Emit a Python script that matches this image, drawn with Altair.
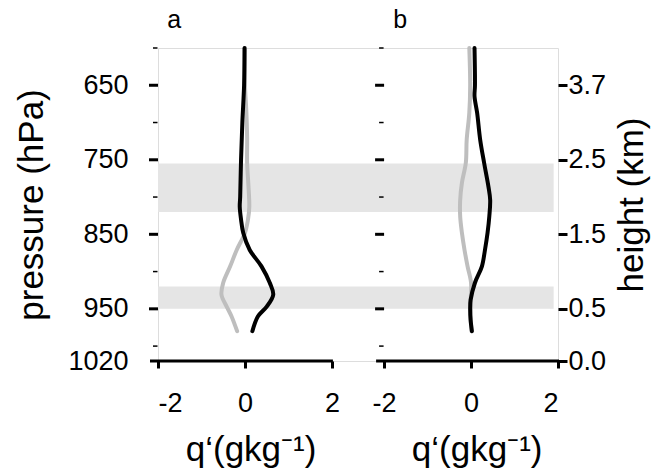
import altair as alt
import pandas as pd

# ---------------- data ----------------
# panel a
a_black_p = [600, 650, 700, 750, 800, 813, 830, 848, 871, 893, 915, 931, 947, 960, 980]
a_black_q = [-0.01, -0.02, -0.06, -0.09, -0.11, -0.12, -0.09, -0.04, 0.11, 0.38, 0.57, 0.65, 0.50, 0.30, 0.17]
a_grey_p = [600, 650, 683, 720, 754, 785, 813, 830, 848, 871, 893, 915, 931, 947, 960, 980]
a_grey_q = [0.0, 0.0, 0.03, 0.05, 0.05, 0.08, 0.10, 0.07, 0.0, -0.19, -0.34, -0.50, -0.54, -0.42, -0.31, -0.18]
# panel b
b_black_p = [600, 650, 665, 687, 723, 754, 786, 804, 826, 848, 871, 893, 915, 938, 950, 965, 980]
b_black_q = [0.08, 0.09, 0.08, 0.14, 0.21, 0.30, 0.40, 0.44, 0.42, 0.38, 0.32, 0.25, 0.09, -0.01, -0.02, -0.01, 0.02]
b_grey_p = [600, 650, 687, 723, 754, 781, 804, 826, 848, 871, 893, 915, 940, 960, 980]
b_grey_q = [-0.04, -0.02, -0.04, -0.10, -0.12, -0.21, -0.25, -0.25, -0.21, -0.15, -0.08, 0.0, -0.01, -0.01, 0.01]

band_top = [755, 920]
band_bottom = [820, 950]

pressure_labels = [650, 750, 850, 950, 1020]
height_labels = ["3.7", "2.5", "1.5", "0.5", "0.0"]
major_ticks = [650, 750, 850, 950]
minor_ticks = [600, 700, 800, 900, 1000]
q_ticks = [-2, 0, 2]
panel_names = ["a", "b"]

# ---------------- layout constants ----------------
OFFSET = {"a": 0.0, "b": 5.2}          # horizontal shift of each panel on the shared x scale
PX = 400 / 9.2                          # pixels per unit of q
BLACK = "#000000"
GREY = "#BEBEBE"
BAND = "#E5E5E5"
FONT = "Liberation Sans"

X = alt.Scale(domain=[-2, 7.2], nice=False, zero=False)
Y = alt.Scale(domain=[600, 1020], reverse=True, nice=False, zero=False)

# ---------------- tables ----------------
def profile(panel, p, q):
    return pd.DataFrame({"panel": panel, "p": p, "x": [v + OFFSET[panel] for v in q]})

black_df = pd.concat([profile("a", a_black_p, a_black_q), profile("b", b_black_p, b_black_q)])
grey_df = pd.concat([profile("a", a_grey_p, a_grey_q), profile("b", b_grey_p, b_grey_q)])

band_df = pd.DataFrame({
    "top": band_top, "bottom": band_bottom,
    "x0": [OFFSET["a"] - 2] * len(band_top),
    "x1": [OFFSET["b"] + 1.9] * len(band_top),
})

def tick_table(levels, length, gap):
    rows = []
    for pan in panel_names:
        for p in levels:
            rows.append({"p": p, "x0": OFFSET[pan] - 2 - length / PX, "x1": OFFSET[pan] - 2 - gap / PX})
    return pd.DataFrame(rows)

major_df = tick_table(major_ticks, 9, 0)
minor_df = tick_table(minor_ticks, 5, 0.5)

axis_line_df = pd.DataFrame({
    "x0": [OFFSET[p] - 2 - 8 / PX for p in panel_names],
    "x1": [OFFSET[p] + 2 + 1 / PX for p in panel_names],
})

letters_df = pd.DataFrame({"label": panel_names, "x": [OFFSET[p] - 1.63 for p in panel_names]})
xtitle_df = pd.DataFrame({"label": ["q\u2018(gkg\u207b\u00b9)"] * 2, "x": [OFFSET[p] + 0.14 for p in panel_names]})

# ---------------- axes ----------------
x_values = [t + OFFSET[p] for p in panel_names for t in q_ticks]
x_axis = alt.Axis(
    orient="bottom", values=x_values, title=None, grid=False, domain=False,
    ticks=True, tickSize=7, tickWidth=3, tickColor=BLACK,
    labelFontSize=27, labelColor=BLACK, labelPadding=22, labelFont=FONT,
    labelExpr=f"datum.value > 2.5 ? '' + round(datum.value - {OFFSET['b']}) : '' + round(datum.value)",
)
left_axis = alt.Axis(
    orient="left", values=pressure_labels, grid=False, domain=False, ticks=False, format="d",
    labelFontSize=27, labelColor=BLACK, labelPadding=30, labelFont=FONT,
    title="pressure (hPa)", titleFontSize=35, titleFontWeight="normal", titleColor=BLACK,
    titleFont=FONT, titlePadding=18,
)
right_expr = " : ".join(f"datum.value == {p} ? '{h}'" for p, h in zip(pressure_labels, height_labels)) + " : ''"
right_axis = alt.Axis(
    orient="right", values=pressure_labels, grid=False, domain=False,
    ticks=True, tickSize=9, tickWidth=3, tickColor=BLACK,
    labelFontSize=27, labelColor=BLACK, labelPadding=1, labelFont=FONT, labelExpr=right_expr,
    title="height (km)", titleFontSize=35, titleFontWeight="normal", titleColor=BLACK,
    titleFont=FONT, titleAngle=270, titleBaseline="top", titlePadding=9,
)

def xenc(field):
    return alt.X(field, scale=X, axis=x_axis)

# ---------------- layers ----------------
bands = alt.Chart(band_df).mark_rect(color=BAND).encode(
    x=xenc("x0:Q"), x2="x1:Q",
    y=alt.Y("top:Q", scale=Y, axis=left_axis), y2="bottom:Q",
)

grey = alt.Chart(grey_df).mark_line(color=GREY, strokeWidth=4, strokeCap="round",
                                    interpolate="catmull-rom").encode(
    x=xenc("x:Q"),
    y=alt.Y("p:Q", scale=Y, axis=None),
    detail="panel:N", order="p:Q",
)

black = alt.Chart(black_df).mark_line(color=BLACK, strokeWidth=4, strokeCap="round",
                                      interpolate="catmull-rom").encode(
    x=xenc("x:Q"),
    y=alt.Y("p:Q", scale=Y, axis=right_axis),
    detail="panel:N", order="p:Q",
)

major = alt.Chart(major_df).mark_rule(color=BLACK, strokeWidth=3).encode(
    x=xenc("x0:Q"), x2="x1:Q",
    y=alt.Y("p:Q", scale=Y, axis=None),
)
minor = alt.Chart(minor_df).mark_rule(color=BLACK, strokeWidth=1.5).encode(
    x=xenc("x0:Q"), x2="x1:Q",
    y=alt.Y("p:Q", scale=Y, axis=None),
)

axis_lines = alt.Chart(axis_line_df).mark_rule(color=BLACK, strokeWidth=3).encode(
    x=xenc("x0:Q"), x2="x1:Q",
    y=alt.YDatum(1020, scale=Y, axis=None),
)

letters = alt.Chart(letters_df).mark_text(fontSize=25, font=FONT, color=BLACK, align="center",
                                          baseline="alphabetic", dy=-20).encode(
    x=xenc("x:Q"),
    y=alt.YDatum(600, scale=Y, axis=None),
    text="label:N",
)

xtitles = alt.Chart(xtitle_df).mark_text(fontSize=35, font=FONT, color=BLACK, align="center",
                                         baseline="alphabetic", dy=100).encode(
    x=xenc("x:Q"),
    y=alt.YDatum(1020, scale=Y, axis=None),
    text="label:N",
)

chart = alt.layer(
    bands, grey, black, major, minor, axis_lines, letters, xtitles
).resolve_scale(y="independent").properties(
    width=400, height=313,
    autosize=alt.AutoSizeParams(type="none"),
    padding={"left": 158, "top": 48, "right": 93, "bottom": 113},
).configure_view(stroke=None).configure(font=FONT, background="white")

chart.save("out.html", embed_options={"renderer": "svg", "actions": False})
